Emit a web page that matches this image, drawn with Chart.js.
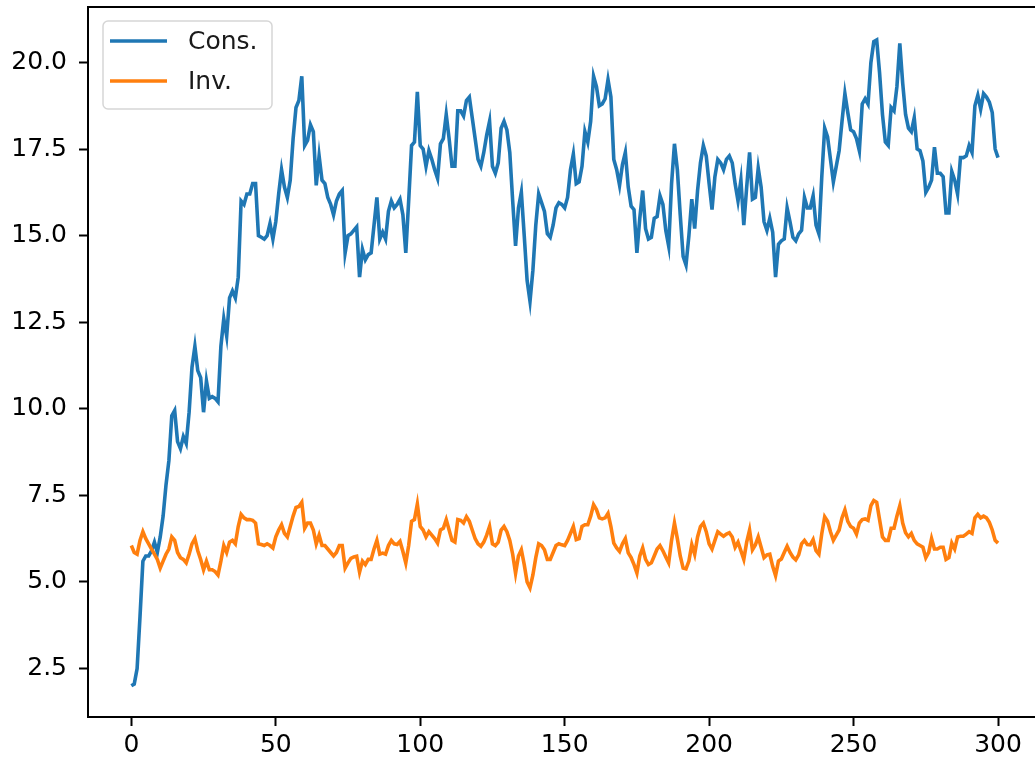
<!DOCTYPE html>
<html lang="en">
<head>
<meta charset="UTF-8" />
<title>Cons. and Inv.</title>
<script src="https://cdn.jsdelivr.net/npm/chart.js"></script>
<style>
  html, body { margin: 0; padding: 0; background: #fff; }
</style>
</head>
<body>
<canvas id="chart" width="1035" height="761"></canvas>
<script>
// series values, one per step (0..300)
const consValues = [
  2.0, 2.05, 2.5, 4.0, 5.6, 5.75, 5.75, 5.9, 6.15, 5.85,
  6.3, 6.9, 7.8, 8.5, 9.8, 9.95, 9.05, 8.85, 9.2, 9.0,
  9.9, 11.2, 11.8, 11.1, 10.9, 9.9, 10.8, 10.3, 10.35, 10.3,
  10.2, 11.8, 12.6, 12.1, 13.2, 13.4, 13.2, 13.8, 16.0, 15.9,
  16.2, 16.2, 16.5, 16.5, 15.0, 14.95, 14.9, 15.0, 15.35, 14.9,
  15.4, 16.2, 16.9, 16.4, 16.1, 16.6, 17.8, 18.7, 18.9, 19.6,
  17.6, 17.75, 18.2, 18.0, 16.45, 17.3, 16.6, 16.5, 16.1, 15.9,
  15.6, 16.0, 16.2, 16.3, 14.5, 15.0, 15.05, 15.15, 15.25, 13.8,
  14.6, 14.3, 14.45, 14.5, 15.3, 16.1, 14.9, 15.1, 14.9, 15.7,
  16.0, 15.8, 15.9, 16.05, 15.6, 14.5, 16.0, 17.6, 17.7, 19.15,
  17.6, 17.5, 17.0, 17.45, 17.2, 16.9, 16.65, 17.65, 17.8, 18.5,
  17.8, 17.0, 17.0, 18.6, 18.6, 18.45, 18.9, 19.0, 18.4, 17.8,
  17.2, 17.0, 17.4, 17.9, 18.3, 17.0, 16.8, 17.1, 18.1, 18.3,
  18.05, 17.4, 16.0, 14.7, 15.8, 16.25, 15.0, 13.7, 13.1, 14.0,
  15.3, 16.2, 15.95, 15.7, 15.05, 14.95, 15.3, 15.8, 15.95, 15.9,
  15.8, 16.1, 16.9, 17.35, 16.5, 16.55, 17.0, 18.0, 17.7, 18.3,
  19.6, 19.3, 18.75, 18.8, 18.95, 19.5, 19.0, 17.2, 16.9, 16.45,
  17.05, 17.4, 16.4, 15.85, 15.75, 14.5, 15.5, 16.3, 15.2, 14.9,
  14.95, 15.5, 15.55, 16.15, 15.9, 15.15, 14.7, 16.5, 17.65, 16.9,
  15.6, 14.4, 14.15, 15.0, 16.05, 15.2, 16.3, 17.1, 17.6, 17.3,
  16.5, 15.75, 16.7, 17.2, 17.1, 16.9, 17.2, 17.3, 17.1, 16.5,
  16.0, 16.6, 15.3, 16.4, 17.4, 16.05, 16.1, 16.95, 16.4, 15.4,
  15.15, 15.5, 15.1, 13.8, 14.75, 14.85, 14.9, 15.8, 15.4, 14.95,
  14.85, 15.05, 15.15, 16.1, 15.8, 15.8, 16.15, 15.3, 15.05, 16.7,
  18.1, 17.85, 17.2, 16.55, 17.0, 17.45, 18.3, 19.1, 18.55, 18.05,
  18.0, 17.8, 17.45, 18.8, 18.95, 18.8, 20.0, 20.6, 20.65, 19.7,
  18.5, 17.7, 17.6, 18.7, 18.6, 19.3, 20.55, 19.4, 18.5, 18.1,
  18.0, 18.4, 17.5, 17.45, 17.15, 16.25, 16.4, 16.6, 17.55, 16.8,
  16.8, 16.7, 15.65, 15.65, 16.85, 16.6, 16.2, 17.25, 17.25, 17.3,
  17.6, 17.4, 18.75, 19.05, 18.65, 19.1, 19.0, 18.85, 18.55, 17.5,
  17.25
];

const invValues = [
  6.05, 5.85, 5.8, 6.2, 6.45, 6.25, 6.1, 5.95, 5.8, 5.65,
  5.4, 5.6, 5.8, 5.95, 6.3, 6.2, 5.85, 5.7, 5.65, 5.55,
  5.8, 6.1, 6.25, 5.9, 5.65, 5.35, 5.6, 5.35, 5.35, 5.3,
  5.2, 5.6, 6.05, 5.85, 6.15, 6.2, 6.1, 6.6, 6.95, 6.85,
  6.8, 6.8, 6.78, 6.7, 6.1, 6.08, 6.05, 6.1, 6.05, 5.98,
  6.3, 6.5, 6.65, 6.4, 6.3, 6.6, 6.9, 7.15, 7.18, 7.3,
  6.55, 6.7, 6.7, 6.5, 6.1, 6.35, 6.05, 6.05, 5.95, 5.85,
  5.75, 5.85, 6.05, 6.05, 5.4, 5.55, 5.68, 5.72, 5.74, 5.28,
  5.6, 5.5, 5.65, 5.65, 5.95, 6.2, 5.8, 5.83, 5.8, 6.05,
  6.2, 6.1, 6.08, 6.17, 5.88, 5.55, 6.05, 6.75, 6.8, 7.25,
  6.6, 6.5, 6.3, 6.45, 6.35, 6.25, 6.12, 6.5, 6.55, 6.8,
  6.5, 6.2, 6.15, 6.8, 6.78, 6.7, 6.88, 6.75, 6.5, 6.25,
  6.1, 6.03, 6.15, 6.35, 6.6, 6.1, 6.05, 6.15, 6.5, 6.6,
  6.45, 6.2, 5.8, 5.25, 5.75, 5.93, 5.5, 5.0, 4.83, 5.2,
  5.7, 6.1, 6.05, 5.93, 5.65, 5.65, 5.85, 6.05, 6.1, 6.07,
  6.05, 6.2, 6.4, 6.6, 6.22, 6.25, 6.6, 6.65, 6.65, 6.9,
  7.23, 7.09, 6.85, 6.82, 6.85, 6.98, 6.6, 6.12, 5.98, 5.88,
  6.1, 6.25, 5.84, 5.7, 5.5, 5.26, 5.75, 5.98, 5.65, 5.5,
  5.55, 5.75, 5.95, 6.05, 5.9, 5.72, 5.55, 6.2, 6.7, 6.25,
  5.75, 5.4, 5.38, 5.6, 6.08, 5.8, 6.3, 6.6, 6.7, 6.45,
  6.1, 5.95, 6.2, 6.45, 6.38, 6.32, 6.38, 6.42, 6.3, 6.0,
  6.15, 5.9, 5.65, 6.15, 6.5, 5.93, 6.07, 6.3, 6.0, 5.7,
  5.78, 5.8, 5.45, 5.18, 5.6, 5.66, 5.85, 6.03, 5.85, 5.72,
  5.64, 5.78, 6.1, 6.2, 6.08, 6.07, 6.22, 5.9, 5.8, 6.4,
  6.88, 6.75, 6.45, 6.2, 6.35, 6.5, 6.85, 7.08, 6.75, 6.6,
  6.55, 6.38, 6.7, 6.8, 6.82, 6.78, 7.2, 7.35, 7.3, 6.8,
  6.3, 6.2, 6.2, 6.55, 6.55, 6.9, 7.2, 6.7, 6.42, 6.3,
  6.4, 6.2, 6.1, 6.05, 6.0, 5.7, 5.85, 6.25, 5.95, 5.95,
  6.0, 6.0, 5.65, 5.7, 6.12, 5.95, 6.3, 6.32, 6.32, 6.38,
  6.45, 6.4, 6.85, 6.95, 6.85, 6.9, 6.85, 6.72, 6.5, 6.2,
  6.12
];

const seriesNames = ["Cons.", "Inv."];
const seriesColors = ["#1f77b4", "#ff7f0e"];
const xTicks = [0, 50, 100, 150, 200, 250, 300];
const yTicks = [2.5, 5.0, 7.5, 10.0, 12.5, 15.0, 17.5, 20.0];

const FONT = { family: "'DejaVu Sans', sans-serif", size: 25 };

function toPoints(values) {
    return values.map((v, i) => ({ x: i, y: v }));
}

// legend box drawn inside the plot, upper left, like matplotlib's
const boxLegend = {
    id: "boxLegend",
    afterDraw(chart) {
        const ctx = chart.ctx;
        const a = chart.chartArea;
        const x = a.left + 15, y = a.top + 14, w = 169, h = 88, r = 5;
        ctx.save();
        ctx.beginPath();
        ctx.roundRect(x, y, w, h, r);
        ctx.fillStyle = "rgba(255,255,255,0.8)";
        ctx.fill();
        ctx.strokeStyle = "#d6d6d6";
        ctx.lineWidth = 1.5;
        ctx.stroke();
        ctx.font = FONT.size + "px " + FONT.family;
        ctx.textBaseline = "middle";
        ctx.fillStyle = "#1a1a1a";
        seriesNames.forEach((name, k) => {
            const ly = y + 20 + k * 40;
            ctx.beginPath();
            ctx.moveTo(x + 7, ly);
            ctx.lineTo(x + 64, ly);
            ctx.strokeStyle = seriesColors[k];
            ctx.lineWidth = 3.6;
            ctx.stroke();
            ctx.fillText(name, x + 85, ly + 1);
        });
        ctx.restore();
    }
};

// top spine (bottom and left come from the axis borders)
const topSpine = {
    id: "topSpine",
    afterDraw(chart) {
        const ctx = chart.ctx;
        const a = chart.chartArea;
        ctx.save();
        ctx.strokeStyle = "#000";
        ctx.lineWidth = 2;
        ctx.beginPath();
        ctx.moveTo(a.left, a.top);
        ctx.lineTo(a.right, a.top);
        ctx.stroke();
        ctx.restore();
    }
};

new Chart(document.getElementById("chart"), {
    type: "line",
    data: {
        datasets: [
            {
                label: seriesNames[0],
                data: toPoints(consValues),
                borderColor: seriesColors[0],
                borderWidth: 3.6,
                pointRadius: 0,
                tension: 0,
                order: 1
            },
            {
                label: seriesNames[1],
                data: toPoints(invValues),
                borderColor: seriesColors[1],
                borderWidth: 3.6,
                pointRadius: 0,
                tension: 0,
                order: 0
            }
        ]
    },
    options: {
        responsive: false,
        animation: false,
        events: [],
        layout: { padding: { top: 7, left: 0, right: 0, bottom: 0 } },
        plugins: {
            legend: { display: false },
            tooltip: { enabled: false }
        },
        scales: {
            x: {
                type: "linear",
                min: -15,
                max: 312.8,
                afterBuildTicks: (s) => { s.ticks = xTicks.map((v) => ({ value: v })); },
                afterFit: (s) => { s.height = 44; s.paddingLeft = 0; s.paddingRight = 0; },
                ticks: {
                    font: FONT,
                    color: "#000",
                    padding: 4,
                    maxRotation: 0,
                    autoSkip: false,
                    callback: (v) => String(v)
                },
                grid: { drawOnChartArea: false, tickLength: 9, tickWidth: 2, color: "#000" },
                border: { color: "#000", width: 2 }
            },
            y: {
                min: 1.1,
                max: 21.6,
                afterBuildTicks: (s) => { s.ticks = yTicks.map((v) => ({ value: v })); },
                afterFit: (s) => { s.width = 88; s.paddingTop = 0; s.paddingBottom = 0; },
                ticks: {
                    font: FONT,
                    color: "#000",
                    padding: 12,
                    autoSkip: false,
                    callback: (v) => v.toFixed(1)
                },
                grid: { drawOnChartArea: false, tickLength: 9, tickWidth: 2, color: "#000" },
                border: { color: "#000", width: 2 }
            }
        }
    },
    plugins: [boxLegend, topSpine]
});
</script>
</body>
</html>
